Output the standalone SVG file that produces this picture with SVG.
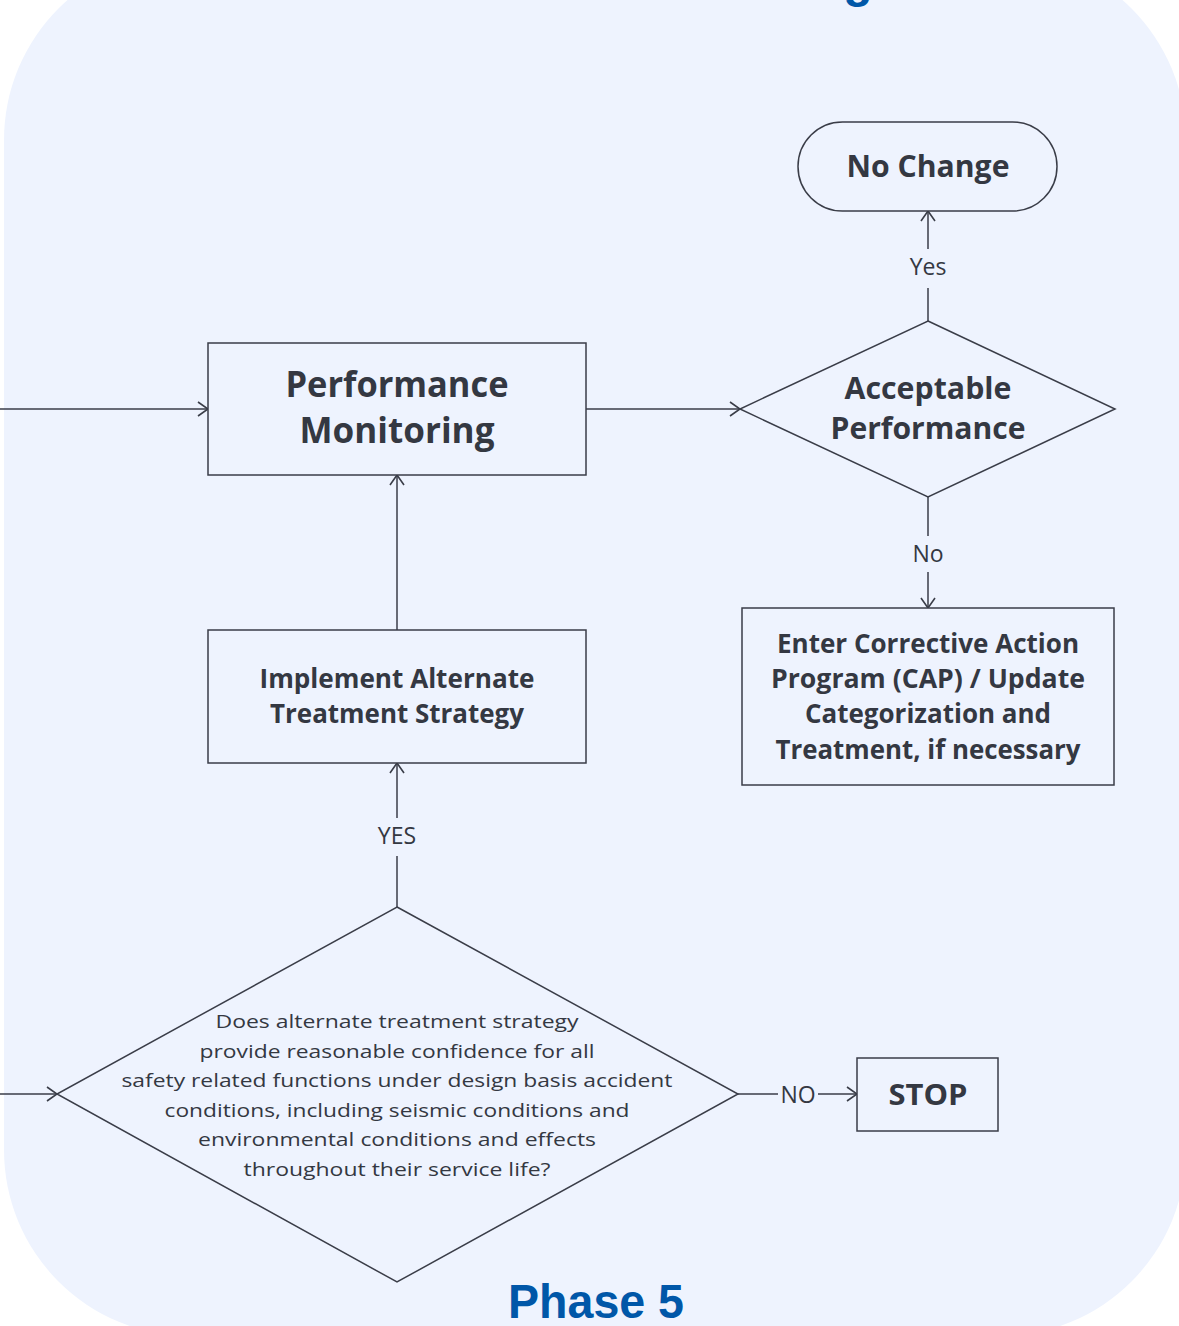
<svg xmlns="http://www.w3.org/2000/svg" width="1179" height="1326" viewBox="0 0 1179 1326">
  <style>
    .shape { fill: #EEF3FE; stroke: #3A3D48; stroke-width: 1.5; }
    .wire { fill: none; stroke: #3A3D48; stroke-width: 1.5; }
    .t { font-family: "Open Sans", "Liberation Sans", sans-serif; fill: #343842; text-anchor: middle; }
    .b { font-weight: bold; }
    .title { font-family: "Liberation Sans", "Open Sans", sans-serif; font-weight: bold; fill: #0057A8; text-anchor: middle; }
  </style>
  <defs>
    <marker id="arrow" viewBox="0 0 12 16" refX="11" refY="8" markerWidth="12" markerHeight="16" markerUnits="userSpaceOnUse" orient="auto">
      <path d="M1,1 L11,8 L1,15" fill="none" stroke="#3A3D48" stroke-width="1.6"/>
    </marker>
  </defs>

  <!-- phase panel -->
  <rect x="4" y="-46" width="1182" height="1382" rx="186" ry="186" fill="#EEF3FE"/>
  <text class="title" x="858" y="-3" font-size="48">g</text>
  <text class="title" x="596" y="1318" font-size="48" textLength="176" lengthAdjust="spacingAndGlyphs">Phase 5</text>

  <!-- connectors -->
  <g id="connectors">
    <line class="wire" x1="0" y1="409" x2="208" y2="409" marker-end="url(#arrow)"/>
    <line class="wire" x1="586" y1="409" x2="740" y2="409" marker-end="url(#arrow)"/>
    <line class="wire" x1="928" y1="321" x2="928" y2="288"/>
    <line class="wire" x1="928" y1="249" x2="928" y2="211" marker-end="url(#arrow)"/>
    <text class="t" x="928" y="275" font-size="23">Yes</text>
    <line class="wire" x1="928" y1="497" x2="928" y2="536"/>
    <line class="wire" x1="928" y1="572" x2="928" y2="608" marker-end="url(#arrow)"/>
    <text class="t" x="928" y="562" font-size="23">No</text>
    <line class="wire" x1="397" y1="630" x2="397" y2="475" marker-end="url(#arrow)"/>
    <line class="wire" x1="397" y1="907" x2="397" y2="856"/>
    <line class="wire" x1="397" y1="818" x2="397" y2="763" marker-end="url(#arrow)"/>
    <text class="t" x="397" y="844" font-size="23">YES</text>
    <line class="wire" x1="0" y1="1094" x2="57" y2="1094" marker-end="url(#arrow)"/>
    <line class="wire" x1="738" y1="1094" x2="778" y2="1094"/>
    <text class="t" x="798" y="1103" font-size="23">NO</text>
    <line class="wire" x1="818" y1="1094" x2="857" y2="1094" marker-end="url(#arrow)"/>
  </g>

  <g id="performance-monitoring">
    <rect class="shape" x="208" y="343" width="378" height="132"/>
    <text class="t b" x="397" y="397" font-size="35" textLength="223" lengthAdjust="spacingAndGlyphs">Performance</text>
    <text class="t b" x="397" y="443" font-size="35" textLength="195" lengthAdjust="spacingAndGlyphs">Monitoring</text>
  </g>

  <g id="no-change">
    <rect class="shape" x="798" y="122" width="259" height="89" rx="44.5" ry="44.5"/>
    <text class="t b" x="928" y="177" font-size="31" textLength="163" lengthAdjust="spacingAndGlyphs">No Change</text>
  </g>

  <g id="acceptable-performance">
    <polygon class="shape" points="928,321 1115,409 928,497 740,409"/>
    <text class="t b" x="928" y="399" font-size="31" textLength="167" lengthAdjust="spacingAndGlyphs">Acceptable</text>
    <text class="t b" x="928" y="439" font-size="31" textLength="195" lengthAdjust="spacingAndGlyphs">Performance</text>
  </g>

  <g id="corrective-action">
    <rect class="shape" x="742" y="608" width="372" height="177"/>
    <text class="t b" x="928" y="653" font-size="26" textLength="302" lengthAdjust="spacingAndGlyphs">Enter Corrective Action</text>
    <text class="t b" x="928" y="688" font-size="26" textLength="314" lengthAdjust="spacingAndGlyphs">Program (CAP) / Update</text>
    <text class="t b" x="928" y="723" font-size="26" textLength="246" lengthAdjust="spacingAndGlyphs">Categorization and</text>
    <text class="t b" x="928" y="759" font-size="26" textLength="305" lengthAdjust="spacingAndGlyphs">Treatment, if necessary</text>
  </g>

  <g id="implement-alternate">
    <rect class="shape" x="208" y="630" width="378" height="133"/>
    <text class="t b" x="397" y="688" font-size="26" textLength="275" lengthAdjust="spacingAndGlyphs">Implement Alternate</text>
    <text class="t b" x="397" y="723" font-size="26" textLength="254" lengthAdjust="spacingAndGlyphs">Treatment Strategy</text>
  </g>

  <g id="alternate-decision">
    <polygon class="shape" points="397,907 738,1094 397,1282 57,1094"/>
    <text class="t" x="397" y="1028" font-size="19" textLength="363" lengthAdjust="spacingAndGlyphs">Does alternate treatment strategy</text>
    <text class="t" x="397" y="1058" font-size="19" textLength="395" lengthAdjust="spacingAndGlyphs">provide reasonable confidence for all</text>
    <text class="t" x="397" y="1087" font-size="19" textLength="551" lengthAdjust="spacingAndGlyphs">safety related functions under design basis accident</text>
    <text class="t" x="397" y="1117" font-size="19" textLength="465" lengthAdjust="spacingAndGlyphs">conditions, including seismic conditions and</text>
    <text class="t" x="397" y="1146" font-size="19" textLength="398" lengthAdjust="spacingAndGlyphs">environmental conditions and effects</text>
    <text class="t" x="397" y="1176" font-size="19" textLength="307" lengthAdjust="spacingAndGlyphs">throughout their service life?</text>
  </g>

  <g id="stop">
    <rect class="shape" x="857" y="1058" width="141" height="73"/>
    <text class="t b" x="928" y="1105" font-size="29" textLength="79" lengthAdjust="spacingAndGlyphs">STOP</text>
  </g>
</svg>
